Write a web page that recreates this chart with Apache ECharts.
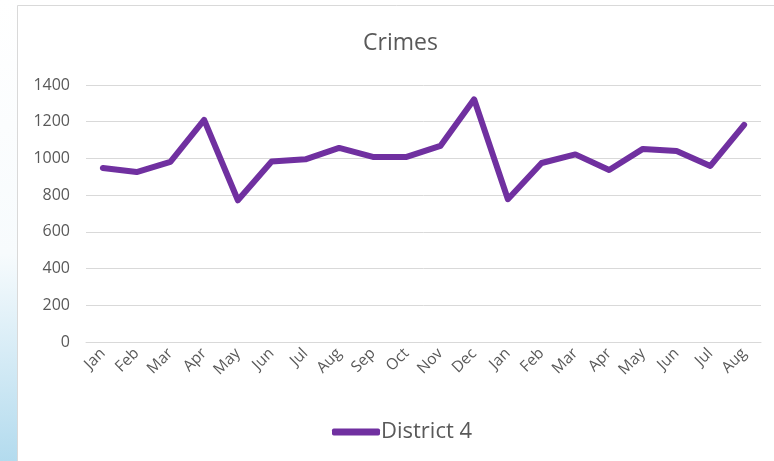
<!DOCTYPE html>
<html>
<head>
<meta charset="utf-8">
<script src="https://cdn.jsdelivr.net/npm/echarts@6/dist/echarts.min.js"></script>
<style>html,body{margin:0;padding:0;background:#fff}#c{width:774px;height:461px}</style>
</head>
<body>
<div id="c"></div>
<script>
var categories = ['Jan','Feb','Mar','Apr','May','Jun','Jul','Aug','Sep','Oct','Nov','Dec','Jan','Feb','Mar','Apr','May','Jun','Jul','Aug'];
var district4 = [948, 926, 981, 1210, 772, 983, 995, 1057, 1008, 1008, 1068, 1322, 778, 975, 1022, 937, 1052, 1041, 959, 1183];
var yTicks = [0, 200, 400, 600, 800, 1000, 1200, 1400];

var chart = echarts.init(document.getElementById('c'), null, {renderer: 'canvas'});
var FONT = '"Open Sans", sans-serif';
chart.setOption({
  animation: false,
  backgroundColor: '#ffffff',
  graphic: [
    {type: 'rect', z: -10, shape: {x: 0, y: 0, width: 17, height: 461},
     style: {fill: new echarts.graphic.LinearGradient(0, 0, 0, 1, [
       {offset: 0, color: '#ffffff'}, {offset: 0.55, color: '#f7fbfd'}, {offset: 1, color: '#b3dbee'}])}},
    {type: 'rect', z: -9, shape: {x: 17.5, y: 5.5, width: 800, height: 600},
     style: {fill: '#ffffff', stroke: '#d9d9d9', lineWidth: 1}}
  ],
  title: {
    text: 'Crimes', left: 358, top: 27,
    textStyle: {fontFamily: FONT, fontSize: 23, fontWeight: 'normal', color: '#595959'}
  },
  legend: {
    data: ['District 4'], bottom: 18, left: 332, padding: 0,
    icon: 'roundRect', itemWidth: 48, itemHeight: 7,
    textStyle: {fontFamily: FONT, fontSize: 22, color: '#595959', padding: [0, 0, 0, -4]}
  },
  grid: {left: 86, right: 13, top: 85, bottom: 119, containLabel: false},
  xAxis: {
    type: 'category', data: categories, boundaryGap: true,
    axisLine: {show: true, lineStyle: {color: '#d9d9d9'}},
    axisTick: {show: false},
    axisLabel: {rotate: 45, interval: 0, margin: 9, fontFamily: FONT, fontSize: 15.5, color: '#595959'}
  },
  yAxis: {
    type: 'value', min: 0, max: 1400, interval: 200,
    axisLine: {show: false}, axisTick: {show: false},
    splitLine: {lineStyle: {color: '#d9d9d9'}},
    axisLabel: {margin: 16, fontFamily: FONT, fontSize: 16, color: '#595959',
      formatter: function (v) { return yTicks.indexOf(v) >= 0 ? String(v) : ''; }}
  },
  series: [{
    name: 'District 4', type: 'line', data: district4, symbol: 'none', smooth: false,
    lineStyle: {width: 6, color: '#7030A0', cap: 'round', join: 'round'},
    itemStyle: {color: '#7030A0'}
  }]
});
</script>
</body>
</html>
